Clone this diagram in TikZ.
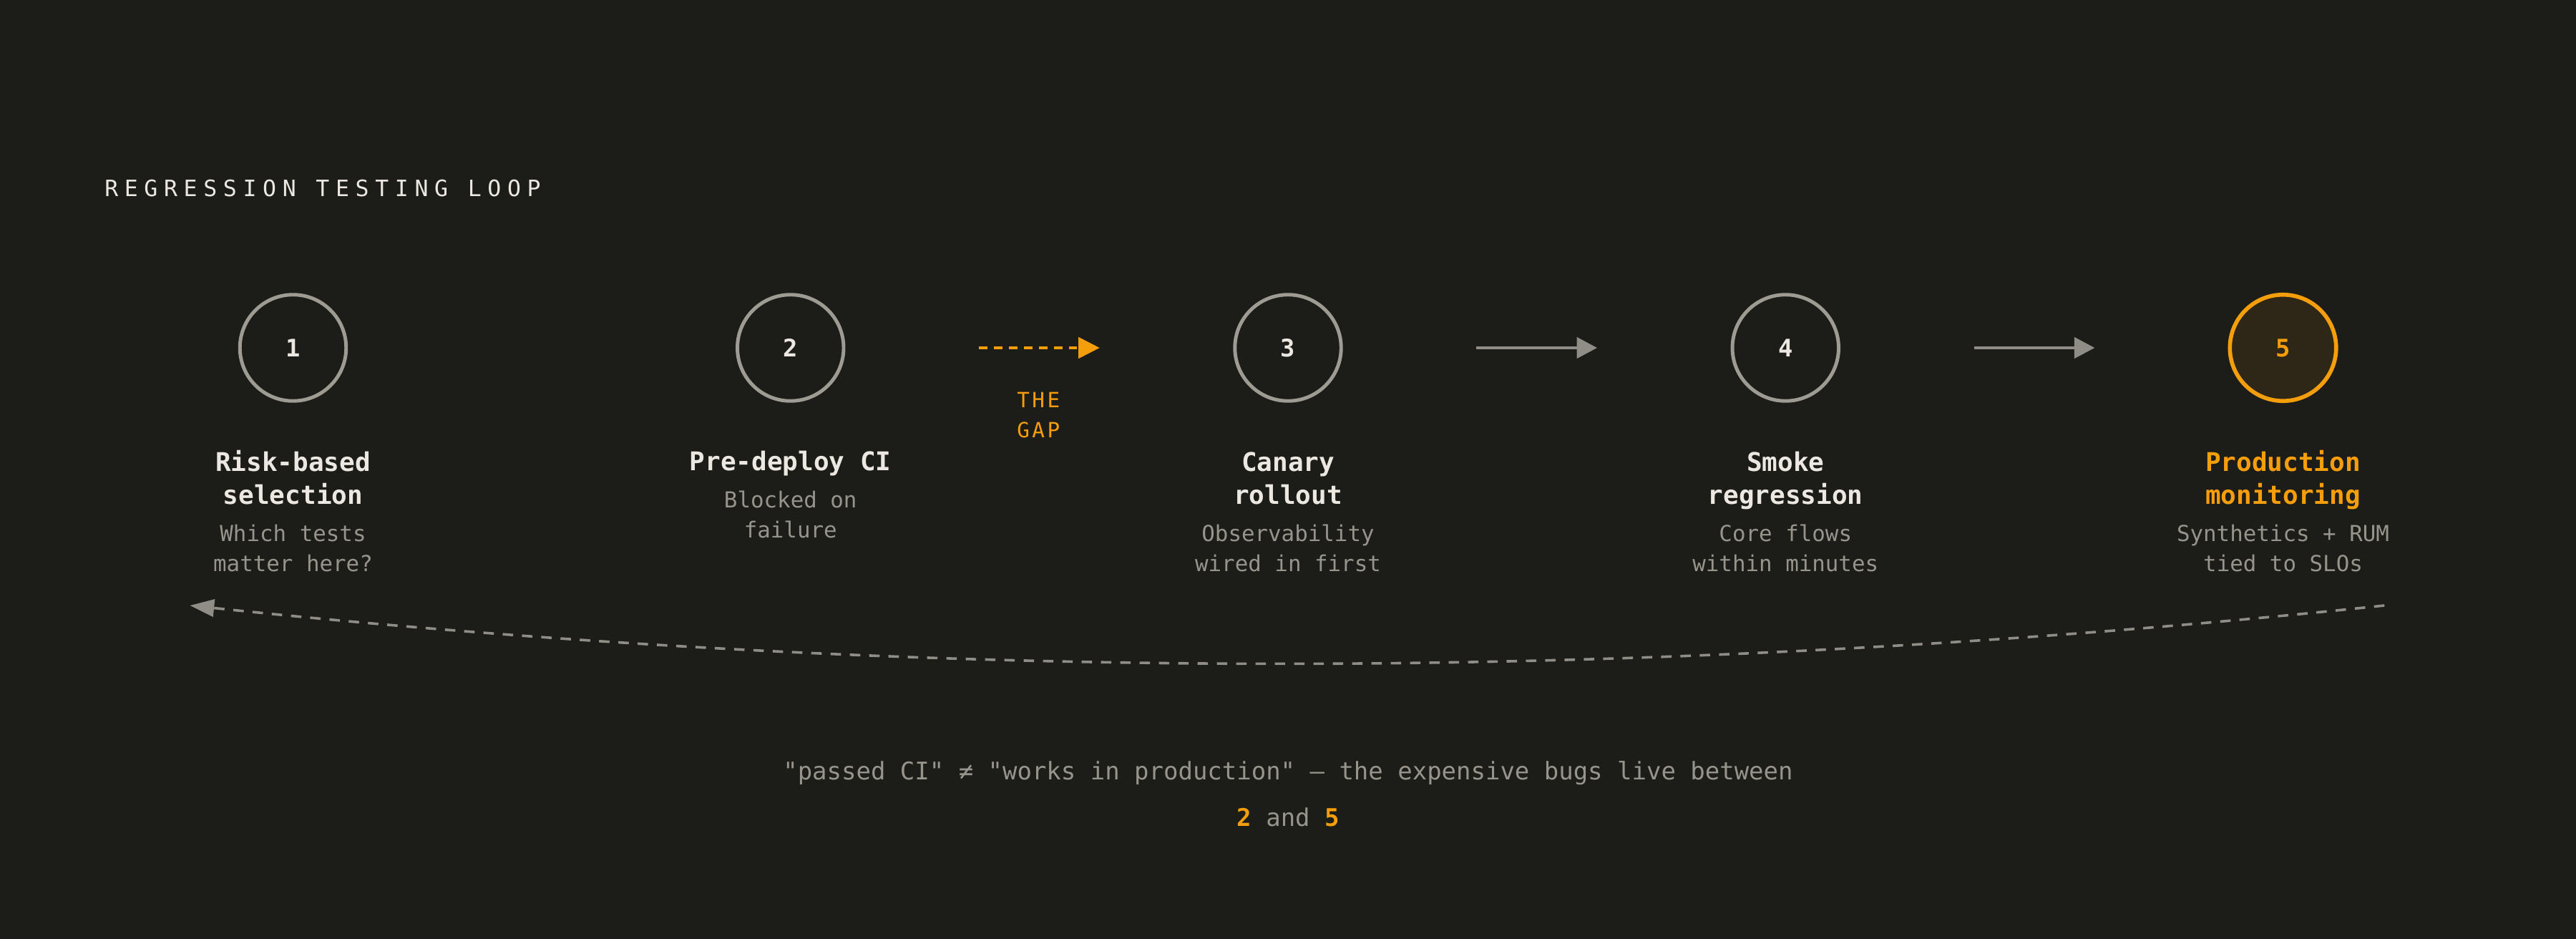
\documentclass[tikz,border=0pt]{standalone}
\usepackage{fontspec}
\setmonofont{DejaVu Sans Mono}
\newfontfamily\spacedmono[LetterSpace=27.5]{DejaVu Sans Mono}
\newfontfamily\gapmono[LetterSpace=12]{DejaVu Sans Mono}
\usepackage{xcolor}
\usetikzlibrary{arrows.meta}

\definecolor{bgdark}{HTML}{1C1C18}
\definecolor{ringgray}{HTML}{9E9B93}
\definecolor{inkwhite}{HTML}{ECE8E1}
\definecolor{inkgray}{HTML}{97948C}
\definecolor{amber}{HTML}{F59E0B}
\definecolor{amberfill}{HTML}{2E2616}
\definecolor{linkgray}{HTML}{8F8D86}

\begin{document}
\begin{tikzpicture}[x=1pt, y=-1pt,
    every node/.style={inner sep=0pt, outer sep=0pt},
    stage/.style={circle, draw=ringgray, line width=2.2pt, minimum size=66pt,
        text=inkwhite, font=\ttfamily\bfseries\fontsize{15}{18}\selectfont},
    hotstage/.style={stage, draw=amber, line width=2.5pt, fill=amberfill, text=amber},
    headline/.style={anchor=base, align=center, text=inkwhite,
        font=\ttfamily\bfseries\fontsize{16}{20.8}\selectfont},
    noteline/.style={anchor=base, align=center, text=inkgray,
        font=\ttfamily\fontsize{13.7}{18.4}\selectfont},
    link/.style={draw=linkgray, line width=1.6pt, shorten <=84pt, shorten >=84pt,
        -{Triangle[length=12.6pt, width=13pt]}},
    gaplink/.style={draw=amber, line width=1.9pt, dash pattern=on 5.3pt off 4pt,
        shorten <=84pt, shorten >=84pt, -{Triangle[length=13.2pt, width=13pt]}},
    looplink/.style={draw=linkgray, line width=1.6pt, dash pattern=on 6.5pt off 5.5pt,
        -{Triangle[length=15pt, width=10.7pt]}}
]
    \useasboundingbox (0,0) rectangle (1600,582.67);
    \fill[bgdark] (-3,-3) rectangle (1603,586);

    % heading
    \node[anchor=base west, text=inkwhite, font=\spacedmono\fontsize{14}{16}\selectfont]
        (heading) at (65,122) {REGRESSION TESTING LOOP};

    % the five stages (multi-line nodes sit on their last baseline)
    \node[stage] (c1) at (182,216) {1};
    \node[stage] (c2) at (491,216) {2};
    \node[stage] (c3) at (800,216) {3};
    \node[stage] (c4) at (1109,216) {4};
    \node[hotstage] (c5) at (1418,216) {5};

    \node[headline] (t1) at (182,313.3) {Risk-based\\selection};
    \node[noteline] (n1) at (182,354.8) {Which tests\\matter here?};

    \node[headline] (t2) at (491,292.4) {Pre-deploy CI};
    \node[noteline] (n2) at (491,333.8) {Blocked on\\failure};

    \node[headline] (t3) at (800,313.3) {Canary\\rollout};
    \node[noteline] (n3) at (800,354.8) {Observability\\wired in first};

    \node[headline] (t4) at (1109,313.3) {Smoke\\regression};
    \node[noteline] (n4) at (1109,354.8) {Core flows\\within minutes};

    \node[headline, text=amber] (t5) at (1418,313.3) {Production\\monitoring};
    \node[noteline] (n5) at (1418,354.8) {Synthetics + RUM\\tied to SLOs};

    % connectors
    \draw[gaplink] (c2.east) -- (c3.west);
    \draw[link] (c3.east) -- (c4.west);
    \draw[link] (c4.east) -- (c5.west);

    \node[anchor=base, align=center, text=amber, font=\gapmono\fontsize{13}{18.6}\selectfont]
        (gap) at (645,271.9) {THE\\GAP};

    % loop back
    \coordinate (loopstart) at (1481,376);
    \coordinate (loopend) at (118,376);
    \draw[looplink] (loopstart) .. controls (1027,424) and (573,424) .. (loopend);

    % footnote
    \node[anchor=base, align=center, text=inkgray, font=\ttfamily\fontsize{15.1}{29.2}\selectfont]
        (footer) at (800,513.3) {"passed CI" ≠ "works in production" — the expensive bugs live between\\
        {\bfseries\color{amber}2} and {\bfseries\color{amber}5}};
\end{tikzpicture}
\end{document}
